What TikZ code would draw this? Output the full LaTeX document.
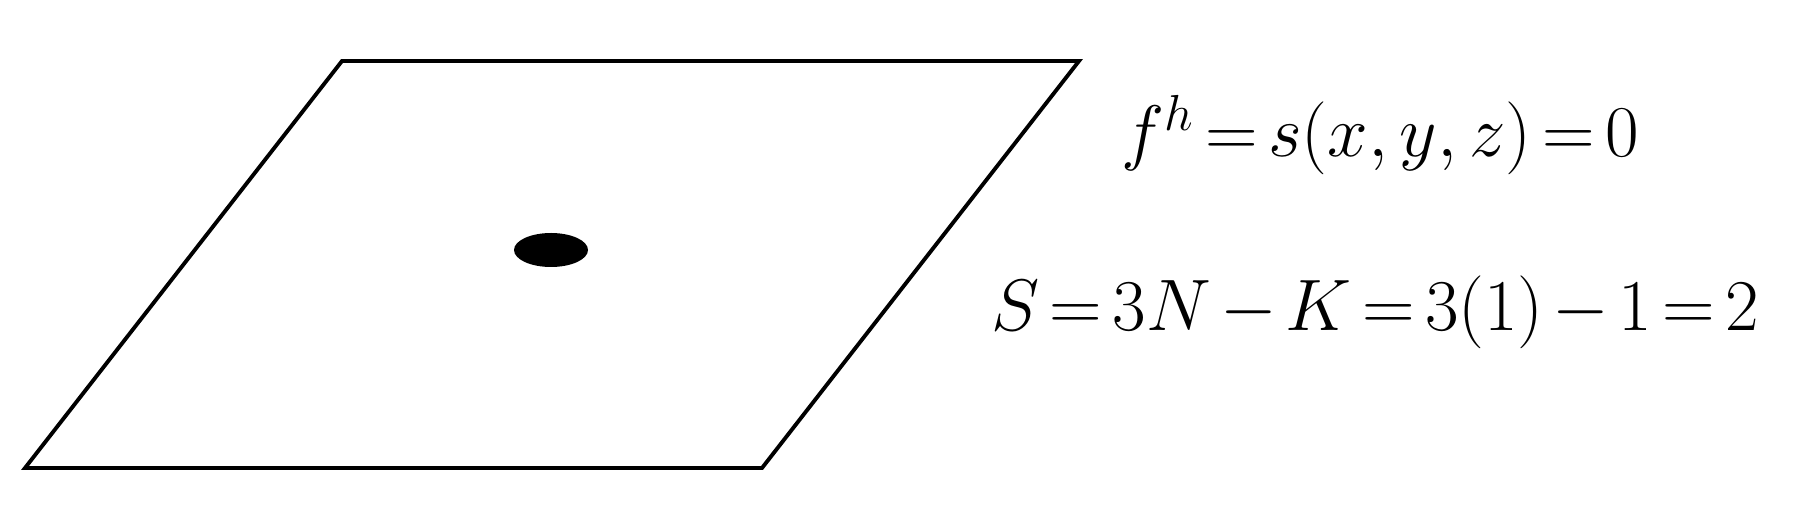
\documentclass[tikz,border=0pt]{standalone}
\usepackage{amsmath,amssymb}
\usetikzlibrary{positioning, calc}
\definecolor{ink}{HTML}{000000}

\begin{document}
\begin{tikzpicture}[
  x=0.01cm, y=-0.01cm,
  eqn/.style={font=\fontsize{20}{24}\selectfont, text=ink, inner sep=0pt, anchor=base},
]

% Tighter math spacing
\thickmuskip=2.6mu
\medmuskip=2.2mu
\thinmuskip=3mu

% Canvas
\useasboundingbox (0,0) rectangle (1816,513);

% Plane corners
\coordinate (tl) at (342,61);
\coordinate (tr) at (1079,61);
\coordinate (br) at (762,468);
\coordinate (bl) at (25,468);

% Plane
\draw[ink, line width=1.1pt] (tl) -- (tr) -- (br) -- (bl) -- cycle;

% Particle on the plane
\fill[ink] (551,250) ellipse (37 and 17);

% Constraint
\node[eqn] (constr) at (1380,157) {$f^{h} = s(x,y,z) = 0$};

% Degrees of freedom
\node[eqn] (dof) at (1375,331) {$S = 3N - K = 3(1) - 1 = 2$};

\end{tikzpicture}
\end{document}
